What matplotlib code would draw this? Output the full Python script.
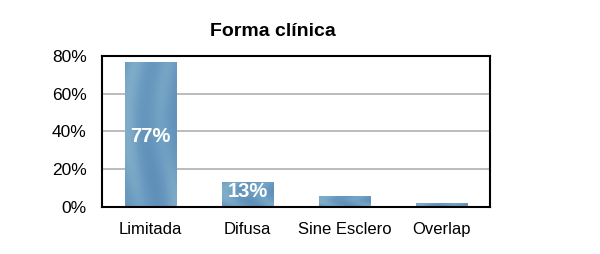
import numpy as np
import matplotlib
matplotlib.use("Agg")
from matplotlib import pyplot as plt
from matplotlib.colors import LinearSegmentedColormap

categories = ["Limitada", "Difusa", "Sine Esclero", "Overlap"]
values = [77, 13, 6, 2]
labels = ["77%", "13%", "", ""]
yticks = [0, 20, 40, 60, 80]

plt.rcParams['font.family'] = ['Liberation Sans', 'DejaVu Sans']

fig = plt.figure(figsize=(6, 2.54), dpi=100)
ax = fig.add_axes([0.17, 0.185, 0.647, 0.595])

x = np.arange(len(categories))
bars = ax.bar(x, values, width=0.53, color='#6a9ac0', zorder=3)

# soft streaky texture inside the bars
cmap = LinearSegmentedColormap.from_list('tex', ['#6090b8', '#6b9bc0', '#7fadc9'])
xx, yy = np.meshgrid(np.linspace(0, 1, 60), np.linspace(0, 1, 120))
tex = 0.5 + 0.25 * np.sin(xx * 9 + 1.5 * np.sin(yy * 4)) + 0.15 * np.sin(xx * 4 + yy * 3)
for b in bars:
    im = ax.imshow(tex, cmap=cmap, aspect='auto', zorder=3.5,
                   extent=[b.get_x(), b.get_x() + b.get_width(), 0, b.get_height()])
    im.set_clip_path(b)

ax.set_xlim(-0.5, len(categories) - 0.5)
ax.set_ylim(0, 80)
ax.set_yticks(yticks)
ax.set_yticklabels(["%d%%" % t for t in yticks], fontsize=12.5)
ax.set_xticks(x)
ax.set_xticklabels(categories, fontsize=12)
ax.tick_params(axis='y', length=0, pad=11)
ax.tick_params(axis='x', length=0, pad=11)
ax.yaxis.grid(True, color='#b0b0b0', linewidth=1.2, zorder=0)
for s in ax.spines.values():
    s.set_linewidth(1.5)
    s.set_color('black')
    s.set_zorder(5)

# white labels inside the two big bars
ax.text(x[0], values[0] / 2 - 1, labels[0], ha='center', va='center',
        color='white', fontsize=14.5, fontweight='bold', zorder=6)
ax.text(x[1], values[1] - 5, labels[1], ha='center', va='center',
        color='white', fontsize=14.5, fontweight='bold', zorder=6)

fig.text(273 / 600, 1 - 32 / 254, "Forma clínica", ha='center', va='center',
         fontsize=14, fontweight='bold')

fig.savefig("out.png", dpi=100)
